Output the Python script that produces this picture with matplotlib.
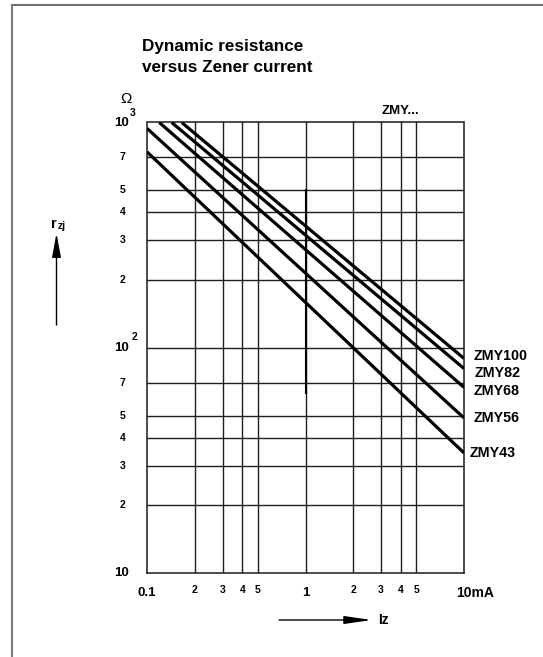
import numpy as np
import matplotlib
matplotlib.use("Agg")
import matplotlib.pyplot as plt
from matplotlib.lines import Line2D
from matplotlib.ticker import NullLocator

plt.rcParams['font.family'] = ['Liberation Sans', 'DejaVu Sans']
plt.rcParams['font.weight'] = 'bold'

# Curves are straight on log-log: start point and end point (mA, Ohm)
names = ['ZMY43', 'ZMY56', 'ZMY68', 'ZMY82', 'ZMY100']
i_start = [0.1, 0.1, 0.1196, 0.1432, 0.1656]
r_start = [741, 942, 1000, 1000, 1000]
i_end = [10, 10, 10, 10, 10]
r_end = [34.2, 48.9, 66.8, 81.0, 89.8]

# grid and tick labels
x_grid = [0.2, 0.3, 0.4, 0.5, 1, 2, 3, 4, 5]
y_grid = [20, 30, 40, 50, 70, 100, 200, 300, 400, 500, 700]
x_ticks = [0.1, 0.2, 0.3, 0.4, 0.5, 1, 2, 3, 4, 5]
x_labels = ['0.1', '2', '3', '4', '5', '1', '2', '3', '4', '5']
y_ticks = [10, 20, 30, 40, 50, 70, 100, 200, 300, 400, 500, 700, 1000]
y_labels = ['10', '2', '3', '4', '5', '7', '10', '2', '3', '4', '5', '7', '10']

# label placement beside right edge (Ohm) and its x in axes fraction
label_r = [34.1, 49.0, 64.3, 77.6, 91.9]
label_x = [1.017, 1.031, 1.031, 1.035, 1.031]

W, H = 543, 657
fig = plt.figure(figsize=(W / 100, H / 100), dpi=100)
ax = fig.add_axes([147 / W, 1 - 573.3 / H, 317 / W, 450.8 / H])
ax.set_xscale('log')
ax.set_yscale('log')
ax.set_xlim(0.1, 10)
ax.set_ylim(10, 1000)
ax.xaxis.set_minor_locator(NullLocator())
ax.yaxis.set_minor_locator(NullLocator())
ax.set_xticks([])
ax.set_yticks([])
for s in ax.spines.values():
    s.set_color('#1a1a1a')
    s.set_linewidth(1.1)

gc = '#1e1e1e'
for xv in x_grid:
    ax.axvline(xv, color=gc, lw=1.0, zorder=1)
for yv in y_grid:
    ax.axhline(yv, color=gc, lw=1.0, zorder=1)
# darker stretch on the 1 mA line (as in the scan)
ax.plot([1, 1], [63.3, 502], color='black', lw=1.5, zorder=1)

for k in range(len(names)):
    ax.plot([i_start[k], i_end[k]], [r_start[k], r_end[k]], color='black',
            lw=2.3, solid_capstyle='butt', zorder=3)
    ax.text(label_x[k], label_r[k], names[k], transform=ax.get_yaxis_transform(),
            ha='left', va='center', fontsize=10.3, clip_on=False)

# x tick labels
xt = ax.get_xaxis_transform()
for v, lab in zip(x_ticks, x_labels):
    big = lab in ('0.1', '1')
    ax.text(v, -0.0426 if big else -0.037, lab, transform=xt, ha='center',
            va='center', fontsize=9.5 if big else 7.5)
ax.text(0.975, -0.0426, '10mA', transform=ax.transAxes, ha='left', va='center', fontsize=10)

# y tick labels
yt = ax.get_yaxis_transform()
for v, lab in zip(y_ticks, y_labels):
    big = lab == '10'
    ax.text(-0.082 if big else -0.0767, v, lab, transform=yt, ha='center',
            va='center', fontsize=9.5 if big else 7.5)
ax.text(-0.038, 112, '2', transform=yt, ha='center', va='center', fontsize=7.5)
ax.text(-0.044, 1100, '3', transform=yt, ha='center', va='center', fontsize=7.5)

ax.text(-0.0675, 1.052, 'Ω', transform=ax.transAxes, ha='center', va='center',
        fontsize=11, fontweight='normal')
ax.text(0.801, 1.0255, 'ZMY...', transform=ax.transAxes, ha='center', va='center', fontsize=9.5)

# title
fig.text(142.2 / W, 1 - 47 / H, 'Dynamic resistance', ha='left', va='center', fontsize=12.3)
fig.text(142.2 / W, 1 - 67 / H, 'versus Zener current', ha='left', va='center', fontsize=12.3)

# axis name arrows
fig.text(54 / W, 1 - 224.5 / H, 'r', ha='center', va='center', fontsize=10.5)
fig.text(57.5 / W, 1 - 226 / H, 'zj', ha='left', va='center', fontsize=7.5)
ax.annotate('', xy=(56.5, H - 233.3), xytext=(56.5, H - 325), xycoords='figure pixels',
            textcoords='figure pixels',
            arrowprops=dict(arrowstyle='-|>,head_length=1.45,head_width=0.27',
                            color='black', lw=1.0, shrinkA=0, shrinkB=0))
ax.annotate('', xy=(371.7, H - 620), xytext=(279, H - 620), xycoords='figure pixels',
            textcoords='figure pixels',
            arrowprops=dict(arrowstyle='-|>,head_length=1.65,head_width=0.24',
                            color='black', lw=1.0, shrinkA=0, shrinkB=0))
fig.text(378 / W, 1 - 620 / H, 'Iz', ha='left', va='center', fontsize=10)

# outer frame (top and left only, as in the scan)
fig.add_artist(Line2D([12 / W, 1], [1 - 5 / H, 1 - 5 / H], transform=fig.transFigure,
                      color='#6e6e6e', lw=1.5))
fig.add_artist(Line2D([12 / W, 12 / W], [0, 1 - 5 / H], transform=fig.transFigure,
                      color='#7a7a7a', lw=1.5))

fig.savefig('out.png', dpi=100)
